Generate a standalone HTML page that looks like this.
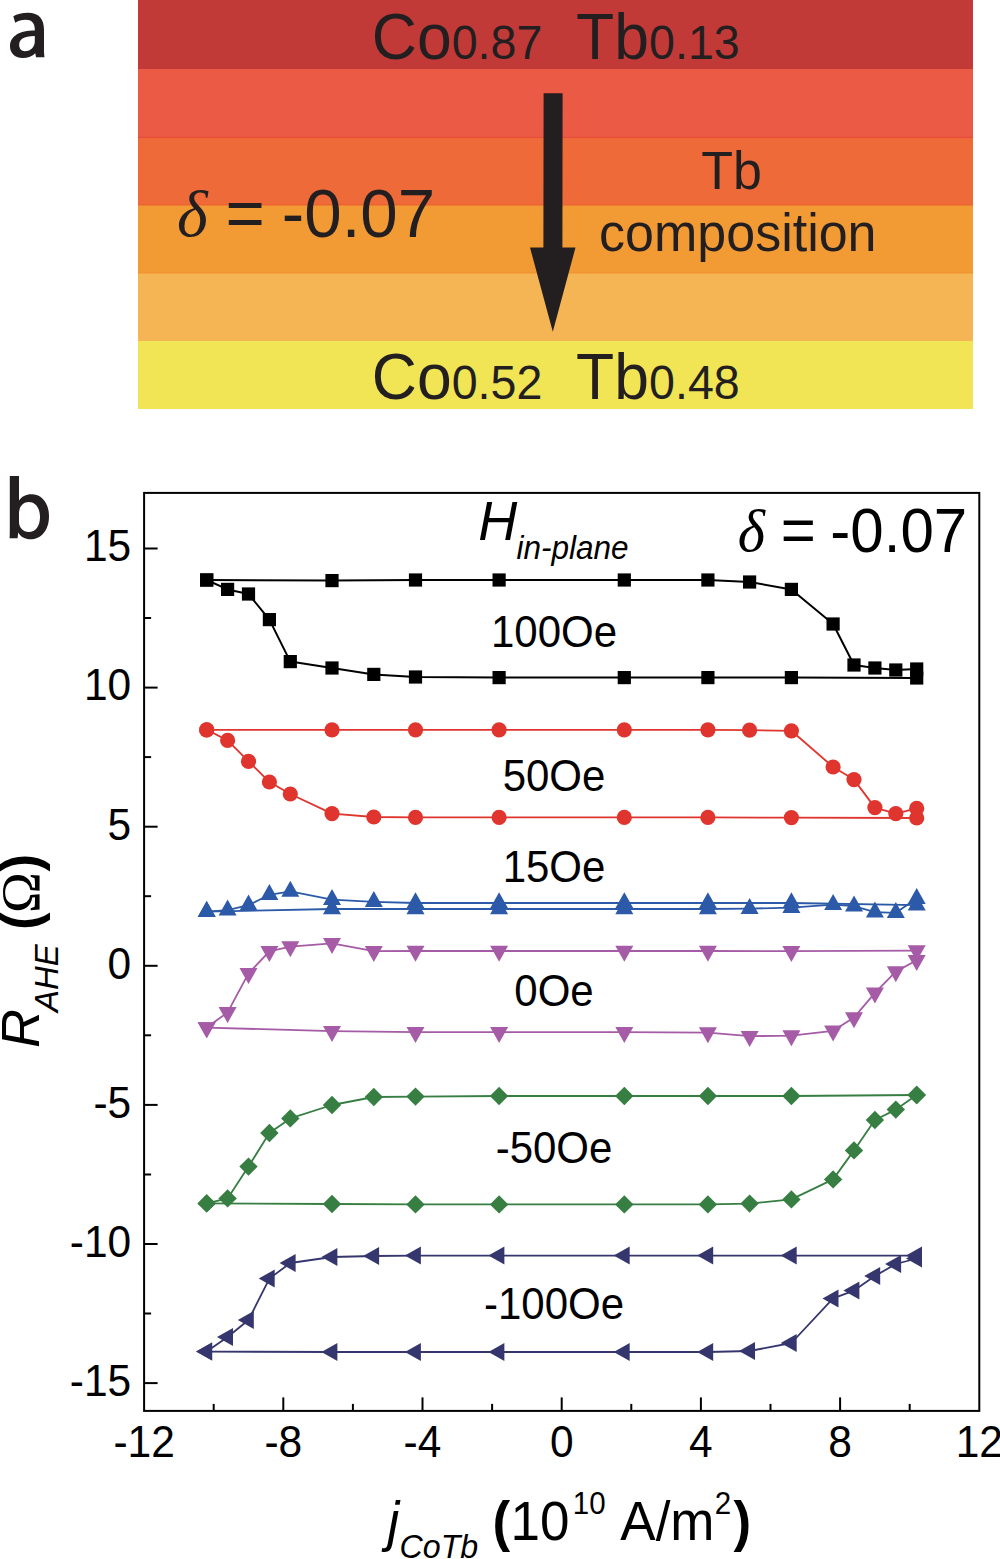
<!DOCTYPE html>
<html><head><meta charset="utf-8"><style>
html,body{margin:0;padding:0;background:#fff;}
body{width:1000px;height:1559px;overflow:hidden;}
svg{display:block;}
</style></head><body>
<svg width="1000" height="1559" viewBox="0 0 1000 1559">
<rect x="138" y="0" width="835" height="69" fill="#C23A38"/><rect x="138" y="69" width="835" height="68" fill="#EB5A45"/><rect x="138" y="137" width="835" height="68" fill="#EE6B39"/><rect x="138" y="205" width="835" height="68" fill="#F29B35"/><rect x="138" y="273" width="835" height="68" fill="#F6B555"/><rect x="138" y="341" width="835" height="68" fill="#F1E555"/><rect x="138" y="136.8" width="835" height="1.1" fill="#E54A3A"/><rect x="138" y="204.4" width="835" height="1.1" fill="#EE6231"/><rect x="138" y="272.4" width="835" height="1.1" fill="#F0922E"/><g transform="translate(0,59.4) scale(1,1.035)"><text x="371.8" y="0" style="font-family:&quot;Liberation Sans&quot;,sans-serif;font-size:62.5px" fill="#231F20">Co<tspan style="font-size:46.6px">0.87</tspan></text><text x="576.1" y="0" style="font-family:&quot;Liberation Sans&quot;,sans-serif;font-size:62.5px" fill="#231F20">Tb<tspan style="font-size:46.6px">0.13</tspan></text></g><g transform="translate(0,398.9) scale(1,1.035)"><text x="371.8" y="0" style="font-family:&quot;Liberation Sans&quot;,sans-serif;font-size:62.5px" fill="#231F20">Co<tspan style="font-size:46.6px">0.52</tspan></text><text x="576.1" y="0" style="font-family:&quot;Liberation Sans&quot;,sans-serif;font-size:62.5px" fill="#231F20">Tb<tspan style="font-size:46.6px">0.48</tspan></text></g><text transform="translate(177.0,236.0) scale(1.0,1.0)" text-anchor="start" style="font-family:&quot;Liberation Serif&quot;,serif;font-size:66px;font-style:italic" fill="#231F20">&#948;</text><text transform="translate(225.5,236.5) scale(1.0,1.028)" text-anchor="start" style="font-family:&quot;Liberation Sans&quot;,sans-serif;font-size:67.3px;" fill="#231F20">=</text><text transform="translate(281.8,236.5) scale(1.0,1.028)" text-anchor="start" style="font-family:&quot;Liberation Sans&quot;,sans-serif;font-size:67.3px;" fill="#231F20">-0.07</text><text transform="translate(701.3,188.6) scale(1.0,1.04)" text-anchor="start" style="font-family:&quot;Liberation Sans&quot;,sans-serif;font-size:52px;" fill="#231F20">Tb</text><text transform="translate(737.8,251.0) scale(1.0,1.04)" text-anchor="middle" style="font-family:&quot;Liberation Sans&quot;,sans-serif;font-size:52px;" fill="#231F20">composition</text><polygon points="543.6,93.3 562.6,93.3 562.4,247.5 575.5,247.5 552.8,331.7 530,247.5 543.4,247.5" fill="#231F20"/><path fill-rule="evenodd" fill="#231F20" d="M13.3,16.3 C17,14 22,12.8 28,12.8 C39,12.8 44,19 44,30 L44,50 C44,53 44.2,55.5 44.5,57.2 L36,57.2 L35.3,53.2 C32.5,56.2 28,58 22.5,58 C14.5,58 10,52.5 10,46.5 C10,36 19.5,30.5 34.8,30.5 L34.8,29.5 C34.8,23 31.5,19.8 25.8,19.8 C21.8,19.8 17.8,21 15.2,22.8 Z M34.8,36 C23,36 19.2,39.5 19.2,45 C19.2,48.8 21.5,51.2 25,51.2 C29.5,51.2 33,48.5 34.3,44.5 C34.7,43.5 34.8,42 34.8,41 Z"/><path fill-rule="evenodd" fill="#231F20" d="M9.8,476 L19,476 L19,500.5 C21.5,496.5 25.8,494.2 31.5,494.2 C41.5,494.2 49,502.5 49,516.2 C49,531 40.5,539.3 30.5,539.3 C25,539.3 20.8,537 18.2,532.5 L17.6,538.2 L9.6,538.2 C9.8,535 9.8,531 9.8,528 Z M28.8,502 C23,502 19,507 19,513 L19,522 C19,527.5 23,532 28.8,532 C35.5,532 40,526 40,517 C40,508.5 35.8,502 28.8,502 Z"/>
<rect x="144.1" y="492.9" width="835.2" height="918.0" fill="none" stroke="#000" stroke-width="2"/><line x1="144.1" y1="548.5" x2="157.6" y2="548.5" stroke="#000" stroke-width="2"/><line x1="144.1" y1="618.0" x2="151.1" y2="618.0" stroke="#000" stroke-width="2"/><line x1="144.1" y1="687.6" x2="157.6" y2="687.6" stroke="#000" stroke-width="2"/><line x1="144.1" y1="757.1" x2="151.1" y2="757.1" stroke="#000" stroke-width="2"/><line x1="144.1" y1="826.7" x2="157.6" y2="826.7" stroke="#000" stroke-width="2"/><line x1="144.1" y1="896.2" x2="151.1" y2="896.2" stroke="#000" stroke-width="2"/><line x1="144.1" y1="965.8" x2="157.6" y2="965.8" stroke="#000" stroke-width="2"/><line x1="144.1" y1="1035.3" x2="151.1" y2="1035.3" stroke="#000" stroke-width="2"/><line x1="144.1" y1="1104.9" x2="157.6" y2="1104.9" stroke="#000" stroke-width="2"/><line x1="144.1" y1="1174.5" x2="151.1" y2="1174.5" stroke="#000" stroke-width="2"/><line x1="144.1" y1="1244.0" x2="157.6" y2="1244.0" stroke="#000" stroke-width="2"/><line x1="144.1" y1="1313.5" x2="151.1" y2="1313.5" stroke="#000" stroke-width="2"/><line x1="144.1" y1="1383.1" x2="157.6" y2="1383.1" stroke="#000" stroke-width="2"/><line x1="213.7" y1="1410.9" x2="213.7" y2="1403.9" stroke="#000" stroke-width="2"/><line x1="283.3" y1="1410.9" x2="283.3" y2="1397.4" stroke="#000" stroke-width="2"/><line x1="352.9" y1="1410.9" x2="352.9" y2="1403.9" stroke="#000" stroke-width="2"/><line x1="422.5" y1="1410.9" x2="422.5" y2="1397.4" stroke="#000" stroke-width="2"/><line x1="492.1" y1="1410.9" x2="492.1" y2="1403.9" stroke="#000" stroke-width="2"/><line x1="561.7" y1="1410.9" x2="561.7" y2="1397.4" stroke="#000" stroke-width="2"/><line x1="631.3" y1="1410.9" x2="631.3" y2="1403.9" stroke="#000" stroke-width="2"/><line x1="700.9" y1="1410.9" x2="700.9" y2="1397.4" stroke="#000" stroke-width="2"/><line x1="770.5" y1="1410.9" x2="770.5" y2="1403.9" stroke="#000" stroke-width="2"/><line x1="840.1" y1="1410.9" x2="840.1" y2="1397.4" stroke="#000" stroke-width="2"/><line x1="909.7" y1="1410.9" x2="909.7" y2="1403.9" stroke="#000" stroke-width="2"/>
<polyline points="206.7,580.0 332.0,580.6 415.5,580.0 499.1,580.0 624.3,580.0 707.9,580.0 749.6,582.0 791.4,589.4 833.1,624.0 854.0,665.0 874.9,668.0 895.8,670.0 916.7,669.0" fill="none" stroke="#000000" stroke-width="2.0" stroke-linejoin="round"/><polyline points="916.7,678.0 791.4,677.6 707.9,677.6 624.3,677.6 499.1,677.6 415.5,677.0 373.8,674.4 332.0,668.0 290.3,661.6 269.4,619.6 248.5,594.0 227.6,589.4 206.7,580.0" fill="none" stroke="#000000" stroke-width="2.0" stroke-linejoin="round"/><rect x="200.1" y="573.4" width="13.2" height="13.2" fill="#000000"/><rect x="325.4" y="574.0" width="13.2" height="13.2" fill="#000000"/><rect x="408.9" y="573.4" width="13.2" height="13.2" fill="#000000"/><rect x="492.5" y="573.4" width="13.2" height="13.2" fill="#000000"/><rect x="617.7" y="573.4" width="13.2" height="13.2" fill="#000000"/><rect x="701.3" y="573.4" width="13.2" height="13.2" fill="#000000"/><rect x="743.0" y="575.4" width="13.2" height="13.2" fill="#000000"/><rect x="784.8" y="582.8" width="13.2" height="13.2" fill="#000000"/><rect x="826.5" y="617.4" width="13.2" height="13.2" fill="#000000"/><rect x="847.4" y="658.4" width="13.2" height="13.2" fill="#000000"/><rect x="868.3" y="661.4" width="13.2" height="13.2" fill="#000000"/><rect x="889.2" y="663.4" width="13.2" height="13.2" fill="#000000"/><rect x="910.1" y="662.4" width="13.2" height="13.2" fill="#000000"/><rect x="910.1" y="671.4" width="13.2" height="13.2" fill="#000000"/><rect x="784.8" y="671.0" width="13.2" height="13.2" fill="#000000"/><rect x="701.3" y="671.0" width="13.2" height="13.2" fill="#000000"/><rect x="617.7" y="671.0" width="13.2" height="13.2" fill="#000000"/><rect x="492.5" y="671.0" width="13.2" height="13.2" fill="#000000"/><rect x="408.9" y="670.4" width="13.2" height="13.2" fill="#000000"/><rect x="367.2" y="667.8" width="13.2" height="13.2" fill="#000000"/><rect x="325.4" y="661.4" width="13.2" height="13.2" fill="#000000"/><rect x="283.7" y="655.0" width="13.2" height="13.2" fill="#000000"/><rect x="262.8" y="613.0" width="13.2" height="13.2" fill="#000000"/><rect x="241.9" y="587.4" width="13.2" height="13.2" fill="#000000"/><rect x="221.0" y="582.8" width="13.2" height="13.2" fill="#000000"/><rect x="200.1" y="573.4" width="13.2" height="13.2" fill="#000000"/><polyline points="206.7,729.8 332.0,729.8 415.5,729.8 499.1,729.8 624.3,729.8 707.9,729.8 749.6,730.2 791.4,730.8 833.1,767.0 854.0,779.6 874.9,807.6 895.8,813.6 916.7,808.4" fill="none" stroke="#E0352E" stroke-width="1.8" stroke-linejoin="round"/><polyline points="916.7,818.0 791.4,817.6 707.9,817.4 624.3,817.4 499.1,817.4 415.5,817.4 373.8,817.0 332.0,813.6 290.3,794.0 269.4,782.0 248.5,761.4 227.6,740.4 206.7,729.8" fill="none" stroke="#E0352E" stroke-width="1.8" stroke-linejoin="round"/><circle cx="206.7" cy="729.8" r="7.6" fill="#E0352E"/><circle cx="332.0" cy="729.8" r="7.6" fill="#E0352E"/><circle cx="415.5" cy="729.8" r="7.6" fill="#E0352E"/><circle cx="499.1" cy="729.8" r="7.6" fill="#E0352E"/><circle cx="624.3" cy="729.8" r="7.6" fill="#E0352E"/><circle cx="707.9" cy="729.8" r="7.6" fill="#E0352E"/><circle cx="749.6" cy="730.2" r="7.6" fill="#E0352E"/><circle cx="791.4" cy="730.8" r="7.6" fill="#E0352E"/><circle cx="833.1" cy="767.0" r="7.6" fill="#E0352E"/><circle cx="854.0" cy="779.6" r="7.6" fill="#E0352E"/><circle cx="874.9" cy="807.6" r="7.6" fill="#E0352E"/><circle cx="895.8" cy="813.6" r="7.6" fill="#E0352E"/><circle cx="916.7" cy="808.4" r="7.6" fill="#E0352E"/><circle cx="916.7" cy="818.0" r="7.6" fill="#E0352E"/><circle cx="791.4" cy="817.6" r="7.6" fill="#E0352E"/><circle cx="707.9" cy="817.4" r="7.6" fill="#E0352E"/><circle cx="624.3" cy="817.4" r="7.6" fill="#E0352E"/><circle cx="499.1" cy="817.4" r="7.6" fill="#E0352E"/><circle cx="415.5" cy="817.4" r="7.6" fill="#E0352E"/><circle cx="373.8" cy="817.0" r="7.6" fill="#E0352E"/><circle cx="332.0" cy="813.6" r="7.6" fill="#E0352E"/><circle cx="290.3" cy="794.0" r="7.6" fill="#E0352E"/><circle cx="269.4" cy="782.0" r="7.6" fill="#E0352E"/><circle cx="248.5" cy="761.4" r="7.6" fill="#E0352E"/><circle cx="227.6" cy="740.4" r="7.6" fill="#E0352E"/><circle cx="206.7" cy="729.8" r="7.6" fill="#E0352E"/><polyline points="206.7,911.7 332.0,909.0 415.5,909.0 499.1,909.0 624.3,909.0 707.9,909.0 749.6,908.6 791.4,907.6 833.1,904.6 854.0,906.2 874.9,912.2 895.8,912.8 916.7,898.6" fill="none" stroke="#2C5AA8" stroke-width="1.8" stroke-linejoin="round"/><polyline points="916.7,905.2 791.4,903.0 707.9,903.0 624.3,903.0 499.1,903.0 415.5,903.0 373.8,901.8 332.0,899.7 290.3,891.4 269.4,894.8 248.5,905.2 227.6,910.1 206.7,911.7" fill="none" stroke="#2C5AA8" stroke-width="1.8" stroke-linejoin="round"/><polygon points="206.7,901.0 215.7,917.0 197.7,917.0" fill="#2C5AA8"/><polygon points="332.0,898.3 341.0,914.3 323.0,914.3" fill="#2C5AA8"/><polygon points="415.5,898.3 424.5,914.3 406.5,914.3" fill="#2C5AA8"/><polygon points="499.1,898.3 508.1,914.3 490.1,914.3" fill="#2C5AA8"/><polygon points="624.3,898.3 633.3,914.3 615.3,914.3" fill="#2C5AA8"/><polygon points="707.9,898.3 716.9,914.3 698.9,914.3" fill="#2C5AA8"/><polygon points="749.6,897.9 758.6,913.9 740.6,913.9" fill="#2C5AA8"/><polygon points="791.4,896.9 800.4,912.9 782.4,912.9" fill="#2C5AA8"/><polygon points="833.1,893.9 842.1,909.9 824.1,909.9" fill="#2C5AA8"/><polygon points="854.0,895.5 863.0,911.5 845.0,911.5" fill="#2C5AA8"/><polygon points="874.9,901.5 883.9,917.5 865.9,917.5" fill="#2C5AA8"/><polygon points="895.8,902.1 904.8,918.1 886.8,918.1" fill="#2C5AA8"/><polygon points="916.7,887.9 925.7,903.9 907.7,903.9" fill="#2C5AA8"/><polygon points="916.7,894.5 925.7,910.5 907.7,910.5" fill="#2C5AA8"/><polygon points="791.4,892.3 800.4,908.3 782.4,908.3" fill="#2C5AA8"/><polygon points="707.9,892.3 716.9,908.3 698.9,908.3" fill="#2C5AA8"/><polygon points="624.3,892.3 633.3,908.3 615.3,908.3" fill="#2C5AA8"/><polygon points="499.1,892.3 508.1,908.3 490.1,908.3" fill="#2C5AA8"/><polygon points="415.5,892.3 424.5,908.3 406.5,908.3" fill="#2C5AA8"/><polygon points="373.8,891.1 382.8,907.1 364.8,907.1" fill="#2C5AA8"/><polygon points="332.0,889.0 341.0,905.0 323.0,905.0" fill="#2C5AA8"/><polygon points="290.3,880.7 299.3,896.7 281.3,896.7" fill="#2C5AA8"/><polygon points="269.4,884.1 278.4,900.1 260.4,900.1" fill="#2C5AA8"/><polygon points="248.5,894.5 257.5,910.5 239.5,910.5" fill="#2C5AA8"/><polygon points="227.6,899.4 236.6,915.4 218.6,915.4" fill="#2C5AA8"/><polygon points="206.7,901.0 215.7,917.0 197.7,917.0" fill="#2C5AA8"/><polyline points="206.7,1027.6 332.0,1031.2 415.5,1032.2 499.1,1032.2 624.3,1032.2 707.9,1032.6 749.6,1036.2 791.4,1035.6 833.1,1030.8 854.0,1017.6 874.9,992.8 895.8,971.6 916.7,960.2" fill="none" stroke="#A55BA6" stroke-width="1.8" stroke-linejoin="round"/><polyline points="916.7,950.6 791.4,951.2 707.9,951.0 624.3,951.0 499.1,951.0 415.5,951.0 373.8,951.2 332.0,943.4 290.3,946.6 269.4,951.4 248.5,973.4 227.6,1012.4 206.7,1027.6" fill="none" stroke="#A55BA6" stroke-width="1.8" stroke-linejoin="round"/><polygon points="206.7,1038.3 215.7,1022.3 197.7,1022.3" fill="#A55BA6"/><polygon points="332.0,1041.9 341.0,1025.9 323.0,1025.9" fill="#A55BA6"/><polygon points="415.5,1042.9 424.5,1026.9 406.5,1026.9" fill="#A55BA6"/><polygon points="499.1,1042.9 508.1,1026.9 490.1,1026.9" fill="#A55BA6"/><polygon points="624.3,1042.9 633.3,1026.9 615.3,1026.9" fill="#A55BA6"/><polygon points="707.9,1043.3 716.9,1027.3 698.9,1027.3" fill="#A55BA6"/><polygon points="749.6,1046.9 758.6,1030.9 740.6,1030.9" fill="#A55BA6"/><polygon points="791.4,1046.3 800.4,1030.3 782.4,1030.3" fill="#A55BA6"/><polygon points="833.1,1041.5 842.1,1025.5 824.1,1025.5" fill="#A55BA6"/><polygon points="854.0,1028.3 863.0,1012.3 845.0,1012.3" fill="#A55BA6"/><polygon points="874.9,1003.5 883.9,987.5 865.9,987.5" fill="#A55BA6"/><polygon points="895.8,982.3 904.8,966.3 886.8,966.3" fill="#A55BA6"/><polygon points="916.7,970.9 925.7,954.9 907.7,954.9" fill="#A55BA6"/><polygon points="916.7,961.3 925.7,945.3 907.7,945.3" fill="#A55BA6"/><polygon points="791.4,961.9 800.4,945.9 782.4,945.9" fill="#A55BA6"/><polygon points="707.9,961.7 716.9,945.7 698.9,945.7" fill="#A55BA6"/><polygon points="624.3,961.7 633.3,945.7 615.3,945.7" fill="#A55BA6"/><polygon points="499.1,961.7 508.1,945.7 490.1,945.7" fill="#A55BA6"/><polygon points="415.5,961.7 424.5,945.7 406.5,945.7" fill="#A55BA6"/><polygon points="373.8,961.9 382.8,945.9 364.8,945.9" fill="#A55BA6"/><polygon points="332.0,954.1 341.0,938.1 323.0,938.1" fill="#A55BA6"/><polygon points="290.3,957.3 299.3,941.3 281.3,941.3" fill="#A55BA6"/><polygon points="269.4,962.1 278.4,946.1 260.4,946.1" fill="#A55BA6"/><polygon points="248.5,984.1 257.5,968.1 239.5,968.1" fill="#A55BA6"/><polygon points="227.6,1023.1 236.6,1007.1 218.6,1007.1" fill="#A55BA6"/><polygon points="206.7,1038.3 215.7,1022.3 197.7,1022.3" fill="#A55BA6"/><polyline points="206.7,1203.4 332.0,1204.0 415.5,1204.4 499.1,1204.4 624.3,1204.4 707.9,1204.4 749.6,1203.6 791.4,1199.4 833.1,1179.4 854.0,1150.4 874.9,1120.0 895.8,1109.6 916.7,1095.0" fill="none" stroke="#367E42" stroke-width="1.8" stroke-linejoin="round"/><polyline points="916.7,1095.0 791.4,1096.0 707.9,1096.0 624.3,1096.0 499.1,1096.0 415.5,1096.6 373.8,1097.0 332.0,1105.0 290.3,1118.4 269.4,1133.0 248.5,1166.6 227.6,1198.4 206.7,1203.4" fill="none" stroke="#367E42" stroke-width="1.8" stroke-linejoin="round"/><polygon points="206.7,1194.2 215.9,1203.4 206.7,1212.6 197.5,1203.4" fill="#367E42"/><polygon points="332.0,1194.8 341.2,1204.0 332.0,1213.2 322.8,1204.0" fill="#367E42"/><polygon points="415.5,1195.2 424.7,1204.4 415.5,1213.6 406.3,1204.4" fill="#367E42"/><polygon points="499.1,1195.2 508.3,1204.4 499.1,1213.6 489.9,1204.4" fill="#367E42"/><polygon points="624.3,1195.2 633.5,1204.4 624.3,1213.6 615.1,1204.4" fill="#367E42"/><polygon points="707.9,1195.2 717.1,1204.4 707.9,1213.6 698.7,1204.4" fill="#367E42"/><polygon points="749.6,1194.4 758.8,1203.6 749.6,1212.8 740.4,1203.6" fill="#367E42"/><polygon points="791.4,1190.2 800.6,1199.4 791.4,1208.6 782.2,1199.4" fill="#367E42"/><polygon points="833.1,1170.2 842.3,1179.4 833.1,1188.6 823.9,1179.4" fill="#367E42"/><polygon points="854.0,1141.2 863.2,1150.4 854.0,1159.6 844.8,1150.4" fill="#367E42"/><polygon points="874.9,1110.8 884.1,1120.0 874.9,1129.2 865.7,1120.0" fill="#367E42"/><polygon points="895.8,1100.4 905.0,1109.6 895.8,1118.8 886.6,1109.6" fill="#367E42"/><polygon points="916.7,1085.8 925.9,1095.0 916.7,1104.2 907.5,1095.0" fill="#367E42"/><polygon points="916.7,1085.8 925.9,1095.0 916.7,1104.2 907.5,1095.0" fill="#367E42"/><polygon points="791.4,1086.8 800.6,1096.0 791.4,1105.2 782.2,1096.0" fill="#367E42"/><polygon points="707.9,1086.8 717.1,1096.0 707.9,1105.2 698.7,1096.0" fill="#367E42"/><polygon points="624.3,1086.8 633.5,1096.0 624.3,1105.2 615.1,1096.0" fill="#367E42"/><polygon points="499.1,1086.8 508.3,1096.0 499.1,1105.2 489.9,1096.0" fill="#367E42"/><polygon points="415.5,1087.4 424.7,1096.6 415.5,1105.8 406.3,1096.6" fill="#367E42"/><polygon points="373.8,1087.8 383.0,1097.0 373.8,1106.2 364.6,1097.0" fill="#367E42"/><polygon points="332.0,1095.8 341.2,1105.0 332.0,1114.2 322.8,1105.0" fill="#367E42"/><polygon points="290.3,1109.2 299.5,1118.4 290.3,1127.6 281.1,1118.4" fill="#367E42"/><polygon points="269.4,1123.8 278.6,1133.0 269.4,1142.2 260.2,1133.0" fill="#367E42"/><polygon points="248.5,1157.4 257.7,1166.6 248.5,1175.8 239.3,1166.6" fill="#367E42"/><polygon points="227.6,1189.2 236.8,1198.4 227.6,1207.6 218.4,1198.4" fill="#367E42"/><polygon points="206.7,1194.2 215.9,1203.4 206.7,1212.6 197.5,1203.4" fill="#367E42"/><polyline points="206.7,1351.6 332.0,1352.0 415.5,1352.0 499.1,1352.0 624.3,1352.0 707.9,1352.0 749.6,1351.0 791.4,1343.0 833.1,1298.4 854.0,1290.6 874.9,1276.0 895.8,1264.0 916.7,1258.5" fill="none" stroke="#35366E" stroke-width="1.8" stroke-linejoin="round"/><polyline points="916.7,1255.6 791.4,1255.6 707.9,1255.6 624.3,1255.6 499.1,1255.6 415.5,1255.6 373.8,1256.0 332.0,1257.0 290.3,1263.0 269.4,1278.6 248.5,1320.0 227.6,1337.0 206.7,1351.6" fill="none" stroke="#35366E" stroke-width="1.8" stroke-linejoin="round"/><polygon points="196.1,1351.6 212.1,1342.6 212.1,1360.6" fill="#35366E"/><polygon points="321.4,1352.0 337.4,1343.0 337.4,1361.0" fill="#35366E"/><polygon points="404.9,1352.0 420.9,1343.0 420.9,1361.0" fill="#35366E"/><polygon points="488.4,1352.0 504.4,1343.0 504.4,1361.0" fill="#35366E"/><polygon points="613.7,1352.0 629.7,1343.0 629.7,1361.0" fill="#35366E"/><polygon points="697.2,1352.0 713.2,1343.0 713.2,1361.0" fill="#35366E"/><polygon points="739.0,1351.0 755.0,1342.0 755.0,1360.0" fill="#35366E"/><polygon points="780.7,1343.0 796.7,1334.0 796.7,1352.0" fill="#35366E"/><polygon points="822.5,1298.4 838.5,1289.4 838.5,1307.4" fill="#35366E"/><polygon points="843.4,1290.6 859.4,1281.6 859.4,1299.6" fill="#35366E"/><polygon points="864.2,1276.0 880.2,1267.0 880.2,1285.0" fill="#35366E"/><polygon points="885.1,1264.0 901.1,1255.0 901.1,1273.0" fill="#35366E"/><polygon points="906.0,1258.5 922.0,1249.5 922.0,1267.5" fill="#35366E"/><polygon points="906.0,1255.6 922.0,1246.6 922.0,1264.6" fill="#35366E"/><polygon points="780.7,1255.6 796.7,1246.6 796.7,1264.6" fill="#35366E"/><polygon points="697.2,1255.6 713.2,1246.6 713.2,1264.6" fill="#35366E"/><polygon points="613.7,1255.6 629.7,1246.6 629.7,1264.6" fill="#35366E"/><polygon points="488.4,1255.6 504.4,1246.6 504.4,1264.6" fill="#35366E"/><polygon points="404.9,1255.6 420.9,1246.6 420.9,1264.6" fill="#35366E"/><polygon points="363.1,1256.0 379.1,1247.0 379.1,1265.0" fill="#35366E"/><polygon points="321.4,1257.0 337.4,1248.0 337.4,1266.0" fill="#35366E"/><polygon points="279.6,1263.0 295.6,1254.0 295.6,1272.0" fill="#35366E"/><polygon points="258.7,1278.6 274.7,1269.6 274.7,1287.6" fill="#35366E"/><polygon points="237.8,1320.0 253.8,1311.0 253.8,1329.0" fill="#35366E"/><polygon points="217.0,1337.0 233.0,1328.0 233.0,1346.0" fill="#35366E"/><polygon points="196.1,1351.6 212.1,1342.6 212.1,1360.6" fill="#35366E"/>
<text transform="translate(131.2,561.3) scale(1.0,1.04)" text-anchor="end" style="font-family:&quot;Liberation Sans&quot;,sans-serif;font-size:42.5px;" fill="#000">15</text><text transform="translate(131.2,700.4) scale(1.0,1.04)" text-anchor="end" style="font-family:&quot;Liberation Sans&quot;,sans-serif;font-size:42.5px;" fill="#000">10</text><text transform="translate(131.2,839.5) scale(1.0,1.04)" text-anchor="end" style="font-family:&quot;Liberation Sans&quot;,sans-serif;font-size:42.5px;" fill="#000">5</text><text transform="translate(131.2,978.6) scale(1.0,1.04)" text-anchor="end" style="font-family:&quot;Liberation Sans&quot;,sans-serif;font-size:42.5px;" fill="#000">0</text><text transform="translate(131.2,1117.7) scale(1.0,1.04)" text-anchor="end" style="font-family:&quot;Liberation Sans&quot;,sans-serif;font-size:42.5px;" fill="#000">-5</text><text transform="translate(131.2,1256.8) scale(1.0,1.04)" text-anchor="end" style="font-family:&quot;Liberation Sans&quot;,sans-serif;font-size:42.5px;" fill="#000">-10</text><text transform="translate(131.2,1395.9) scale(1.0,1.04)" text-anchor="end" style="font-family:&quot;Liberation Sans&quot;,sans-serif;font-size:42.5px;" fill="#000">-15</text><text transform="translate(144.1,1457.0) scale(1.0,1.04)" text-anchor="middle" style="font-family:&quot;Liberation Sans&quot;,sans-serif;font-size:42.5px;" fill="#000">-12</text><text transform="translate(283.3,1457.0) scale(1.0,1.04)" text-anchor="middle" style="font-family:&quot;Liberation Sans&quot;,sans-serif;font-size:42.5px;" fill="#000">-8</text><text transform="translate(422.5,1457.0) scale(1.0,1.04)" text-anchor="middle" style="font-family:&quot;Liberation Sans&quot;,sans-serif;font-size:42.5px;" fill="#000">-4</text><text transform="translate(561.7,1457.0) scale(1.0,1.04)" text-anchor="middle" style="font-family:&quot;Liberation Sans&quot;,sans-serif;font-size:42.5px;" fill="#000">0</text><text transform="translate(700.9,1457.0) scale(1.0,1.04)" text-anchor="middle" style="font-family:&quot;Liberation Sans&quot;,sans-serif;font-size:42.5px;" fill="#000">4</text><text transform="translate(840.1,1457.0) scale(1.0,1.04)" text-anchor="middle" style="font-family:&quot;Liberation Sans&quot;,sans-serif;font-size:42.5px;" fill="#000">8</text><text transform="translate(979.3,1457.0) scale(1.0,1.04)" text-anchor="middle" style="font-family:&quot;Liberation Sans&quot;,sans-serif;font-size:42.5px;" fill="#000">12</text><text transform="translate(554.0,646.6) scale(1.0,1.04)" text-anchor="middle" style="font-family:&quot;Liberation Sans&quot;,sans-serif;font-size:42px;" fill="#000">100Oe</text><text transform="translate(554.0,791.0) scale(1.0,1.04)" text-anchor="middle" style="font-family:&quot;Liberation Sans&quot;,sans-serif;font-size:42px;" fill="#000">50Oe</text><text transform="translate(554.0,882.0) scale(1.0,1.04)" text-anchor="middle" style="font-family:&quot;Liberation Sans&quot;,sans-serif;font-size:42px;" fill="#000">15Oe</text><text transform="translate(554.0,1006.0) scale(1.0,1.04)" text-anchor="middle" style="font-family:&quot;Liberation Sans&quot;,sans-serif;font-size:42px;" fill="#000">0Oe</text><text transform="translate(554.0,1163.0) scale(1.0,1.04)" text-anchor="middle" style="font-family:&quot;Liberation Sans&quot;,sans-serif;font-size:42px;" fill="#000">-50Oe</text><text transform="translate(554.0,1319.0) scale(1.0,1.04)" text-anchor="middle" style="font-family:&quot;Liberation Sans&quot;,sans-serif;font-size:42px;" fill="#000">-100Oe</text><text transform="translate(478.2,540.0) scale(1.0,1.04)" text-anchor="start" style="font-family:&quot;Liberation Sans&quot;,sans-serif;font-size:54px;font-style:italic" fill="#000">H</text><text transform="translate(516.5,558.5) scale(1.0,1.04)" text-anchor="start" style="font-family:&quot;Liberation Sans&quot;,sans-serif;font-size:31.5px;font-style:italic" fill="#000">in-plane</text><text transform="translate(737.8,551.1) scale(1.0,1.0)" text-anchor="start" style="font-family:&quot;Liberation Serif&quot;,serif;font-size:58.5px;font-style:italic" fill="#000">&#948;</text><text transform="translate(780.8,551.6) scale(1.0,1.039)" text-anchor="start" style="font-family:&quot;Liberation Sans&quot;,sans-serif;font-size:60.1px;" fill="#000">=</text><text transform="translate(830.3,551.6) scale(1.0,1.039)" text-anchor="start" style="font-family:&quot;Liberation Sans&quot;,sans-serif;font-size:60.1px;" fill="#000">-0.07</text>
<text transform="translate(387.5,1540.0) scale(1.0,1.04)" text-anchor="start" style="font-family:&quot;Liberation Sans&quot;,sans-serif;font-size:53px;font-style:italic" fill="#000">j</text><text transform="translate(399.5,1557.5) scale(1.0,1.04)" text-anchor="start" style="font-family:&quot;Liberation Sans&quot;,sans-serif;font-size:32.2px;font-style:italic" fill="#000">CoTb</text><text transform="translate(492.4,1540.0) scale(1.0,1.04)" text-anchor="start" style="font-family:&quot;Liberation Sans&quot;,sans-serif;font-size:53px;font-weight:bold" fill="#000">(</text><text transform="translate(510.5,1540.0) scale(1.0,1.04)" text-anchor="start" style="font-family:&quot;Liberation Sans&quot;,sans-serif;font-size:53px;" fill="#000">10</text><text transform="translate(572.8,1513.6) scale(1.0,1.07)" text-anchor="start" style="font-family:&quot;Liberation Sans&quot;,sans-serif;font-size:29.5px;" fill="#000">10</text><text transform="translate(608.5,1540.0) scale(1.0,1.04)" text-anchor="start" style="font-family:&quot;Liberation Sans&quot;,sans-serif;font-size:53px;white-space:pre" fill="#000"> A/m</text><text transform="translate(714.8,1513.6) scale(1.0,1.07)" text-anchor="start" style="font-family:&quot;Liberation Sans&quot;,sans-serif;font-size:29.5px;" fill="#000">2</text><text transform="translate(733.5,1540.0) scale(1.0,1.04)" text-anchor="start" style="font-family:&quot;Liberation Sans&quot;,sans-serif;font-size:53px;font-weight:bold" fill="#000">)</text>
<g transform="translate(39,1048) rotate(-90)">
<text x="0" y="0" style="font-family:&quot;Liberation Sans&quot;,sans-serif;font-size:54px;font-style:italic" fill="#000">R</text>
<text x="36" y="18.7" style="font-family:&quot;Liberation Sans&quot;,sans-serif;font-size:33px;font-style:italic" fill="#000">AHE</text>
<text x="118" y="0" style="font-family:&quot;Liberation Sans&quot;,sans-serif;font-size:53px;font-weight:bold" fill="#000">(</text>
<text x="135" y="0" style="font-family:&quot;Liberation Serif&quot;,serif;font-size:55px" fill="#000">&#937;</text>
<text x="176.5" y="0" style="font-family:&quot;Liberation Sans&quot;,sans-serif;font-size:53px;font-weight:bold" fill="#000">)</text>
</g>
</svg>
</body></html>
